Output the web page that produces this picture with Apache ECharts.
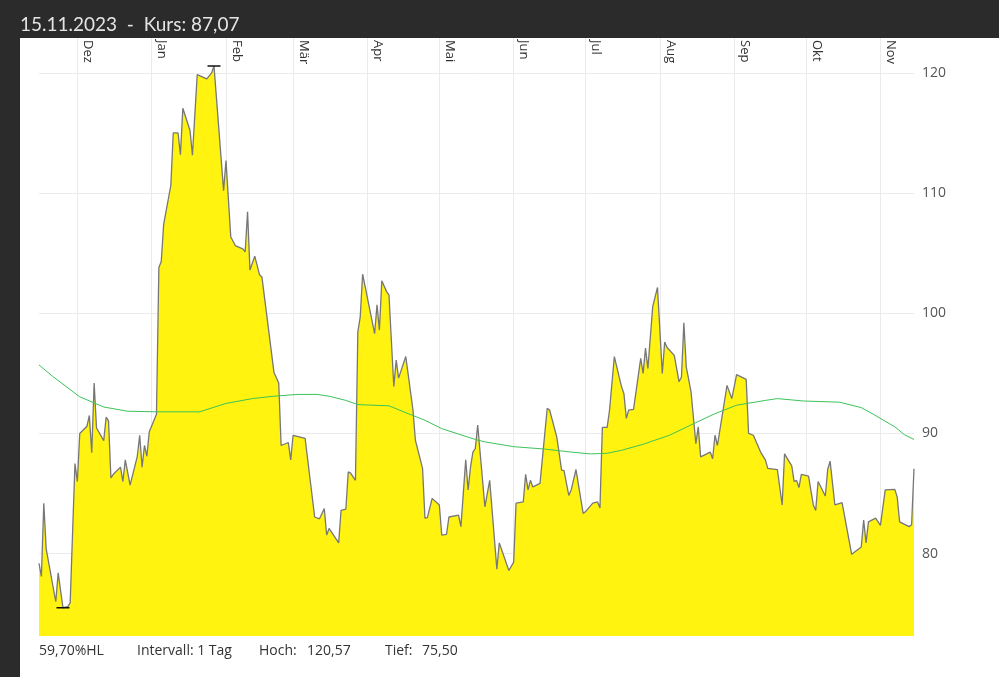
<!DOCTYPE html>
<html>
<head>
<meta charset="utf-8">
<script src="https://cdn.jsdelivr.net/npm/echarts@6/dist/echarts.min.js"></script>
<style>
  html, body { margin: 0; padding: 0; background: #2b2b2b; }
  #chart { width: 999px; height: 677px; }
</style>
</head>
<body>
<div id="chart"></div>
<script>
// Kursverlauf (Tagesschluss)
var priceDates = [
  '2022-11-15','2022-11-16','2022-11-17','2022-11-18','2022-11-22','2022-11-23','2022-11-25','2022-11-27','2022-11-28','2022-11-30',
  '2022-12-01','2022-12-02','2022-12-05','2022-12-06','2022-12-07','2022-12-08','2022-12-09','2022-12-12','2022-12-13','2022-12-14',
  '2022-12-15','2022-12-16','2022-12-19','2022-12-20','2022-12-21','2022-12-23','2022-12-26','2022-12-27','2022-12-28','2022-12-29',
  '2022-12-30','2022-12-31','2023-01-03','2023-01-04','2023-01-05','2023-01-06','2023-01-09','2023-01-10','2023-01-12','2023-01-13',
  '2023-01-14','2023-01-17','2023-01-18','2023-01-20','2023-01-24','2023-01-26','2023-01-27','2023-01-31','2023-02-01','2023-02-03',
  '2023-02-05','2023-02-08','2023-02-09','2023-02-10','2023-02-11','2023-02-13','2023-02-15','2023-02-16','2023-02-21','2023-02-23',
  '2023-02-24','2023-02-27','2023-02-28','2023-03-01','2023-03-06','2023-03-10','2023-03-12','2023-03-14','2023-03-15','2023-03-16',
  '2023-03-20','2023-03-21','2023-03-23','2023-03-24','2023-03-25','2023-03-27','2023-03-28','2023-03-29','2023-03-30','2023-04-04',
  '2023-04-05','2023-04-06','2023-04-07','2023-04-09','2023-04-10','2023-04-12','2023-04-13','2023-04-14','2023-04-17','2023-04-20',
  '2023-04-21','2023-04-24','2023-04-25','2023-04-26','2023-04-28','2023-05-01','2023-05-02','2023-05-04','2023-05-05','2023-05-09',
  '2023-05-10','2023-05-12','2023-05-13','2023-05-14','2023-05-15','2023-05-16','2023-05-17','2023-05-20','2023-05-22','2023-05-25',
  '2023-05-26','2023-05-30','2023-06-01','2023-06-02','2023-06-05','2023-06-06','2023-06-07','2023-06-08','2023-06-09','2023-06-12',
  '2023-06-15','2023-06-16','2023-06-19','2023-06-21','2023-06-22','2023-06-24','2023-06-25','2023-06-27','2023-06-30','2023-07-01',
  '2023-07-04','2023-07-06','2023-07-07','2023-07-08','2023-07-10','2023-07-11','2023-07-13','2023-07-15','2023-07-16','2023-07-17',
  '2023-07-18','2023-07-19','2023-07-21','2023-07-24','2023-07-25','2023-07-26','2023-07-27','2023-07-29','2023-07-31','2023-08-02',
  '2023-08-03','2023-08-04','2023-08-07','2023-08-09','2023-08-10','2023-08-11','2023-08-12','2023-08-14','2023-08-16','2023-08-17',
  '2023-08-18','2023-08-22','2023-08-23','2023-08-24','2023-08-25','2023-08-29','2023-08-31','2023-09-02','2023-09-06','2023-09-07',
  '2023-09-09','2023-09-12','2023-09-14','2023-09-15','2023-09-19','2023-09-21','2023-09-22','2023-09-25','2023-09-26','2023-09-27',
  '2023-09-28','2023-09-29','2023-10-02','2023-10-04','2023-10-05','2023-10-06','2023-10-09','2023-10-10','2023-10-11','2023-10-13',
  '2023-10-16','2023-10-20','2023-10-24','2023-10-25','2023-10-26','2023-10-27','2023-10-30','2023-11-01','2023-11-03','2023-11-07',
  '2023-11-08','2023-11-09','2023-11-13','2023-11-14','2023-11-15'
];
var priceValues = [
  79.2, 78.1, 84.2, 80.4, 76.0, 78.4, 75.5, 75.6, 75.9, 87.5,
  86.0, 90.0, 90.6, 91.5, 88.4, 94.2, 90.45, 89.4, 91.35, 91.05,
  86.3, 86.6, 87.2, 86.0, 87.8, 85.7, 88.1, 89.85, 87.2, 89.0,
  88.1, 90.15, 91.6, 103.8, 104.3, 107.4, 110.65, 115.0, 115.0, 113.2,
  117.05, 115.2, 113.15, 119.85, 119.5, 120.0, 120.57, 110.2, 112.7, 106.35,
  105.6, 105.35, 105.1, 108.45, 103.6, 104.75, 103.2, 103.0, 95.1, 94.2,
  89.0, 89.25, 87.8, 89.85, 89.6, 83.05, 82.9, 83.75, 81.55, 82.1,
  80.9, 83.6, 83.7, 86.8, 86.7, 86.1, 98.45, 99.7, 103.25, 98.3,
  100.7, 98.6, 102.7, 101.8, 101.5, 93.9, 96.1, 94.6, 96.4, 91.95,
  89.45, 87.1, 82.95, 83.0, 84.6, 84.05, 81.55, 81.6, 83.05, 83.2,
  82.25, 87.8, 85.3, 87.2, 88.45, 88.75, 90.7, 83.9, 86.1, 78.7,
  80.9, 78.6, 79.3, 84.2, 84.3, 86.6, 85.3, 86.1, 85.55, 85.85,
  92.1, 91.95, 89.7, 86.95, 86.9, 84.85, 85.3, 87.0, 83.35, 83.5,
  84.2, 84.3, 83.8, 90.5, 90.5, 91.95, 96.4, 94.7, 93.9, 93.3,
  91.25, 91.95, 92.0, 96.25, 95.0, 97.1, 95.4, 100.55, 102.15, 95.0,
  97.6, 97.15, 96.5, 94.3, 94.7, 99.2, 95.55, 93.45, 89.15, 90.55,
  88.05, 88.45, 87.9, 89.85, 89.0, 94.0, 92.9, 94.9, 94.5, 90.0,
  89.85, 88.45, 87.8, 87.1, 87.0, 84.05, 88.3, 87.3, 86.0, 86.1,
  85.5, 86.6, 86.45, 84.05, 83.6, 86.0, 84.8, 87.0, 87.7, 84.05,
  84.25, 79.95, 80.55, 82.8, 80.9, 82.65, 82.95, 82.35, 85.3, 85.35,
  84.7, 82.65, 82.25, 82.4, 87.07
];

// gleitender Durchschnitt (grün)
var maDates = [
  '2022-11-15','2022-11-21','2022-12-02','2022-12-12','2022-12-22','2023-01-03','2023-01-21','2023-02-01','2023-02-12','2023-02-21',
  '2023-03-03','2023-03-11','2023-03-16','2023-03-23','2023-03-28','2023-04-10','2023-04-18','2023-04-25','2023-05-02','2023-05-09',
  '2023-05-16','2023-05-20','2023-06-01','2023-06-14','2023-06-25','2023-07-03','2023-07-10','2023-07-16','2023-07-25','2023-08-05',
  '2023-08-16','2023-08-24','2023-09-02','2023-09-14','2023-09-19','2023-09-30','2023-10-15','2023-10-24','2023-10-29','2023-11-07',
  '2023-11-11','2023-11-15'
];
var maValues = [
  95.7, 94.7, 93.05, 92.2, 91.85, 91.8, 91.8, 92.5, 92.9, 93.1,
  93.25, 93.25, 93.1, 92.75, 92.4, 92.3, 91.65, 91.1, 90.4, 89.95,
  89.5, 89.3, 88.9, 88.7, 88.45, 88.3, 88.35, 88.6, 89.1, 89.85,
  90.9, 91.65, 92.35, 92.75, 92.9, 92.7, 92.6, 92.15, 91.6, 90.55,
  89.9, 89.5
];

var monthTicks = ['2022-12-01','2023-01-01','2023-02-01','2023-03-01','2023-04-01','2023-05-01',
                  '2023-06-01','2023-07-01','2023-08-01','2023-09-01','2023-10-01','2023-11-01'];
var monthNames = ['Jan','Feb','Mär','Apr','Mai','Jun','Jul','Aug','Sep','Okt','Nov','Dez'];
var yTicks = [80, 90, 100, 110, 120];

var headerText = '15.11.2023  -  Kurs: 87,07';
var footerTexts = ['59,70%HL', 'Intervall: 1 Tag', 'Hoch:', '120,57', 'Tief:', '75,50'];

function ts(d) { return +echarts.time.parse(d); }
var priceData = priceDates.map(function (d, i) { return [ts(d), priceValues[i]]; });
var maData = maDates.map(function (d, i) { return [ts(d), maValues[i]]; });
var monthTickValues = monthTicks.map(ts);

var myChart = echarts.init(document.getElementById('chart'));

var footerX = [39, 137, 259, 307, 385, 422];

var option = {
  backgroundColor: '#2b2b2b',
  animation: false,
  grid: {
    left: 39,
    right: 85,
    top: 38,
    bottom: 41
  },
  graphic: [
    {
      type: 'rect',
      z: -100,
      shape: { x: 20, y: 38, width: 979, height: 639 },
      style: { fill: '#ffffff' }
    },
    {
      type: 'text',
      x: 20,
      y: 34,
      style: {
        text: headerText,
        fill: '#e4e4e4',
        font: '19px Lato',
        textVerticalAlign: 'bottom'
      }
    }
  ].concat(footerTexts.map(function (t, i) {
    return {
      type: 'text',
      x: footerX[i],
      y: 651,
      style: {
        text: t,
        fill: '#333333',
        font: '14px "Open Sans"',
        textVerticalAlign: 'middle'
      }
    };
  })),
  xAxis: {
    type: 'value',
    position: 'top',
    min: ts('2022-11-15'),
    max: ts('2023-11-15'),
    axisLine: { show: false },
    axisTick: { show: false, customValues: monthTickValues },
    axisLabel: {
      inside: true,
      rotate: 90,
      margin: 2,
      customValues: monthTickValues,
      color: '#333',
      fontSize: 13,
      fontFamily: 'Open Sans',
      verticalAlign: 'bottom',
      padding: [0, 0, 4, 0],
      formatter: function (v) {
        return monthNames[new Date(v).getMonth()];
      }
    },
    splitLine: {
      show: true,
      lineStyle: { color: '#ebebeb', width: 1 }
    }
  },
  yAxis: {
    type: 'value',
    position: 'right',
    min: 73.15,
    max: 122.9,
    axisLine: { show: false },
    axisTick: { show: false, customValues: yTicks },
    axisLabel: {
      customValues: yTicks,
      margin: 8,
      color: '#555',
      fontSize: 14,
      fontFamily: 'Open Sans'
    },
    splitLine: {
      show: true,
      lineStyle: { color: '#ebebeb', width: 1 }
    }
  },
  series: [
    {
      name: 'Kurs',
      type: 'line',
      data: priceData,
      symbol: 'none',
      lineStyle: { color: '#777777', width: 1.3 },
      areaStyle: { color: '#fff200', opacity: 0.94 },
      markPoint: {
        symbol: 'rect',
        symbolSize: [13, 1.5],
        itemStyle: { color: '#111' },
        label: { show: false },
        data: [{ type: 'max' }, { type: 'min' }]
      }
    },
    {
      name: 'Durchschnitt',
      type: 'line',
      data: maData,
      symbol: 'none',
      lineStyle: { color: '#3cc35a', width: 1 }
    }
  ]
};

myChart.setOption(option);
</script>
</body>
</html>
